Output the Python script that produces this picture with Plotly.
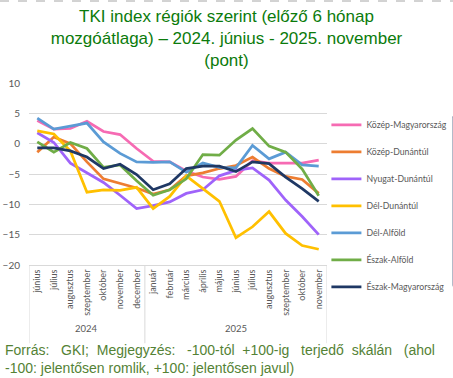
import plotly.graph_objects as go

months = ["június", "július", "augusztus", "szeptember", "október", "november", "december",
          "január", "február", "március", "április", "május", "június", "július",
          "augusztus", "szeptember", "október", "november"]
years = ["2024"] * 7 + ["2025"] * 11

kozep_magyarorszag = [3.8, 2.4, 2.5, 3.7, 2.0, 1.5, -0.8, -2.9, -3.0, -4.5, -5.5, -5.9, -5.4, -2.8, -3.2, -3.2, -3.2, -2.7]
kozep_dunantul = [-1.4, 1.1, 0.0, -3.0, -5.8, -6.6, -7.3, -8.3, -7.6, -5.3, -4.8, -4.1, -3.6, -2.2, -4.1, -5.4, -5.9, -8.2]
nyugat_dunantul = [1.8, 0.2, -3.2, -4.8, -6.4, -8.5, -10.7, -10.2, -9.6, -8.2, -7.6, -5.3, -4.4, -4.0, -6.0, -9.3, -12.0, -15.0]
del_dunantul = [2.1, 1.6, -1.2, -8.0, -7.6, -7.7, -7.2, -10.7, -8.7, -5.3, -7.4, -9.5, -15.5, -13.7, -11.2, -14.8, -16.8, -17.4]
del_alfold = [4.2, 2.4, 2.9, 3.4, 0.3, -1.6, -3.0, -3.1, -3.0, -4.7, -3.2, -3.9, -4.0, -0.3, -2.5, -1.4, -3.5, -3.7]
eszak_alfold = [0.3, -1.4, 0.2, -0.8, -3.9, -3.5, -6.1, -8.5, -7.6, -5.8, -1.8, -1.9, 0.6, 2.5, -0.4, -1.4, -4.2, -8.6]
eszak_magyarorszag = [-0.7, -0.7, -1.2, -2.2, -4.1, -3.4, -5.1, -7.6, -6.6, -4.1, -3.7, -3.7, -4.6, -3.0, -3.3, -5.5, -7.4, -9.5]

series = [
    ("Közép-Magyarország", kozep_magyarorszag, "#F66BB3"),
    ("Közép-Dunántúl", kozep_dunantul, "#ED7D31"),
    ("Nyugat-Dunántúl", nyugat_dunantul, "#9F63FA"),
    ("Dél-Dunántúl", del_dunantul, "#FFC000"),
    ("Dél-Alföld", del_alfold, "#5B9BD5"),
    ("Észak-Alföld", eszak_alfold, "#70AD47"),
    ("Észak-Magyarország", eszak_magyarorszag, "#1F3864"),
]

x = list(range(len(months)))

fig = go.Figure()
for i, (name, vals, col) in enumerate(series):
    fig.add_trace(go.Scatter(x=x, y=vals, name=name, mode="lines",
                             line=dict(color=col, width=2.75),
                             legendgroup=f"g{i}"))

grid = "#D9D9D9"
fig.update_layout(
    width=453, height=378,
    margin=dict(l=29, r=126, t=83, b=113, autoexpand=False),
    paper_bgcolor="white", plot_bgcolor="white",
    showlegend=True,
    title=dict(text="TKI index régiók szerint (előző 6 hónap<br>mozgóátlaga) – 2024. június - 2025. november<br>(pont)",
               x=0.5, xref="container", xanchor="center",
               y=1 - 22 / 378, yref="container", yanchor="top",
               font=dict(family="Liberation Sans, Arial", size=17, color="#0B7B0B")),
    legend=dict(x=0.998, xanchor="left", y=0.85, yanchor="top",
                font=dict(family="Lato", size=8.7, color="#595959"),
                tracegroupgap=8, itemwidth=30, bgcolor="rgba(0,0,0,0)"),
    xaxis=dict(range=[-0.5, len(months) - 0.5], tickmode="array", tickvals=x, ticktext=months,
               tickangle=-90, tickfont=dict(family="Lato", size=9, color="#595959"),
               showgrid=False, zeroline=False, showline=True, linecolor=grid, linewidth=1,
               ticks="", fixedrange=True),
    yaxis=dict(range=[-20, 10], dtick=5, tick0=0, showgrid=True, gridcolor=grid, gridwidth=1,
               zeroline=False, showline=False, ticks="",
               tickfont=dict(family="Lato", size=10, color="#595959"),
               ticklabelstandoff=8, fixedrange=True),
)

# year group labels and separators of the two-level category axis
groups = {}
for i, yv in enumerate(years):
    groups.setdefault(yv, []).append(i)
bounds = [-0.5]
for yv, idx in groups.items():
    fig.add_annotation(x=(idx[0] + idx[-1]) / 2, y=-0.35, xref="x", yref="paper",
                       text=yv, showarrow=False, yanchor="middle",
                       font=dict(family="Lato", size=9.5, color="#595959"))
    bounds.append(idx[-1] + 0.5)
for b in bounds:
    fig.add_shape(type="line", x0=b, x1=b, y0=0, y1=-0.43, xref="x", yref="paper",
                  line=dict(color=grid, width=1))

nb = "\u00a0"
words1 = ["Forrás:", "GKI;", "Megjegyzés:", "-100-tól", "+100-ig", "terjedő", "skálán", "(ahol"]
gaps = [nb * 2 + " ", nb + " ", nb * 2 + " ", nb + " ", nb * 2 + " ", nb + " ", nb * 2 + " "]
line1 = words1[0] + "".join(g + w for g, w in zip(gaps, words1[1:]))
line2 = "-100: jelentősen romlik, +100: jelentősen javul)"
fig.add_annotation(
    text=line1 + "<br>" + line2,
    xref="paper", yref="paper", x=-26 / 298, y=-(340 - 265) / 182, xanchor="left", yanchor="top",
    align="left", showarrow=False,
    font=dict(family="Liberation Sans, Arial", size=14, color="#548235"))

fig.add_shape(type="line", xref="paper", yref="paper", x0=-29 / 298, x1=(453 - 29) / 298,
              y0=(265 - 1) / 182, y1=(265 - 1) / 182,
              line=dict(color="#A6A6A6", width=1, dash="dash"))

fig.write_html("out.html", config={"displayModeBar": False},
               post_script="document.body.style.margin='0';document.body.style.overflow='hidden';")
